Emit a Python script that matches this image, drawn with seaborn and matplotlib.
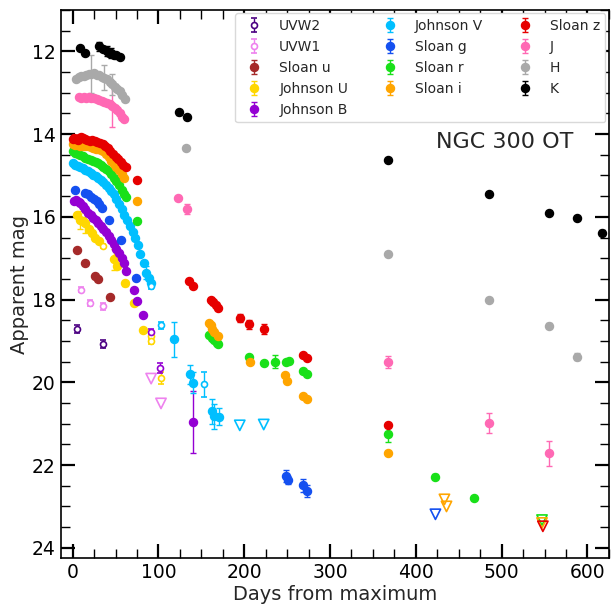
import matplotlib
matplotlib.use("Agg")
import matplotlib.pyplot as plt
from matplotlib.ticker import MultipleLocator
import seaborn as sns

# ---------------- photometry (days from maximum, apparent magnitude, error) ----------------
bands = ["UVW2", "UVW1", "Sloan u", "Johnson U", "Johnson B", "Johnson V",
         "Sloan g", "Sloan r", "Sloan i", "Sloan z", "J", "H", "K"]
colors = ["#4b0082", "#ee82ee", "#a52a2a", "#ffd700", "#9400d3", "#00bfff",
          "#1450f0", "#19e019", "#ffa500", "#e60000", "#ff69b4", "#a9a9a9", "#000000"]

# UVW2 (Swift, open symbols only)
uvw2_open_day = [5.2, 35.5]
uvw2_open_mag = [18.72, 19.07]
uvw2_open_err = [0.1, 0.1]

# UVW1
uvw1_open_day = [9.9, 20.7, 35.5]
uvw1_open_mag = [17.76, 18.08, 18.16]
uvw1_open_err = [0.06, 0.08, 0.08]
uvw1_lim_day = [91.5, 103.0]
uvw1_lim_mag = [19.91, 20.51]

# Sloan u
u_day = [5.2, 15.0, 26.6, 29.3, 43.2]
u_mag = [16.79, 17.11, 17.43, 17.50, 17.94]
u_err = [0.04, 0.04, 0.04, 0.04, 0.04]

# Johnson U
U_day = [5.2, 9.0, 12.0, 15.0, 19.0, 22.7, 26.0, 30.4, 48.0, 52.0, 61.5, 72.0, 82.2]
U_mag = [15.95, 16.07, 16.10, 16.15, 16.30, 16.39, 16.50, 16.59, 17.03, 17.18, 17.61, 18.09, 18.74]
U_err = [0.05, 0.22, 0.05, 0.25, 0.05, 0.05, 0.05, 0.05, 0.25, 0.05, 0.05, 0.05, 0.05]
U_open_day = [35.0, 91.5, 91.5, 103.0]
U_open_mag = [16.71, 18.88, 19.00, 19.89]
U_open_err = [0.05, 0.08, 0.08, 0.15]

# Johnson B
B_day = [1.3, 4.0, 7.0, 9.0, 12.0, 15.0, 18.0, 21.0, 24.0, 27.0, 30.0, 33.0, 36.0,
         39.0, 42.0, 45.0, 48.0, 51.0, 54.0, 57.0, 60.0, 62.3, 72.0, 75.2, 82.2, 140.4]
B_mag = [15.62, 15.60, 15.64, 15.66, 15.73, 15.82, 15.90, 15.96, 16.02, 16.08, 16.15, 16.22, 16.29,
         16.37, 16.46, 16.56, 16.66, 16.77, 16.88, 17.00, 17.12, 17.31, 17.76, 18.04, 18.38, 20.97]
B_err = [0.03] * 25 + [0.75]
B_open_day = [91.5, 102.3]
B_open_mag = [18.78, 19.65]
B_open_err = [0.08, 0.12]

# Johnson V
V_day = [0.0, 3.0, 6.0, 9.0, 12.0, 15.0, 18.0, 21.0, 24.0, 27.0, 30.0, 33.0, 36.0, 39.0,
         42.0, 45.0, 48.0, 51.0, 54.0, 57.0, 60.0, 63.0, 67.0, 70.0, 73.0, 76.0, 79.0, 83.0,
         86.0, 88.7, 91.5, 118.7, 137.3, 140.4, 162.6, 164.5, 170.3]
V_mag = [14.70, 14.74, 14.78, 14.80, 14.83, 14.86, 14.90, 14.94, 14.98, 15.02, 15.07, 15.12, 15.17, 15.23,
         15.30, 15.38, 15.46, 15.56, 15.68, 15.82, 15.95, 16.07, 16.23, 16.37, 16.50, 16.67, 16.91, 17.11,
         17.35, 17.47, 17.60, 18.96, 19.81, 20.01, 20.70, 20.82, 20.83]
V_err = [0.03] * 28 + [0.15, 0.03, 0.03, 0.42, 0.22, 0.25, 0.3, 0.3, 0.2]
V_open_day = [91.5, 103.0, 152.8]
V_open_mag = [17.68, 18.62, 20.05]
V_open_err = [0.06, 0.08, 0.3]
V_lim_day = [194.8, 222.7]
V_lim_mag = [21.04, 21.02]

# Sloan g
g_day = [3.3, 15.0, 18.0, 22.0, 25.0, 28.0, 31.0, 34.0, 42.0, 56.5, 74.4, 249.0, 250.7, 268.6, 273.7]
g_mag = [15.34, 15.42, 15.46, 15.52, 15.56, 15.62, 15.70, 15.78, 16.07, 16.55, 17.49, 22.27, 22.36, 22.49, 22.63]
g_err = [0.03] * 11 + [0.15, 0.1, 0.15, 0.15]
g_lim_day = [422.8]
g_lim_mag = [23.19]

# Sloan r
r_day = [0.0, 3.0, 6.0, 9.0, 12.0, 15.0, 18.0, 21.0, 24.0, 27.0, 30.0, 33.0, 36.0, 39.0, 42.0,
         45.0, 48.0, 51.0, 54.0, 57.0, 60.0, 62.0, 75.0, 159.0, 162.0, 165.0, 168.0, 170.0,
         206.0, 222.5, 236.0, 249.0, 252.0, 268.5, 273.5, 367.3, 422.8, 468.3]
r_mag = [14.42, 14.45, 14.48, 14.50, 14.54, 14.57, 14.60, 14.62, 14.64, 14.67, 14.70, 14.74, 14.79, 14.84, 14.90,
         14.97, 15.05, 15.14, 15.24, 15.35, 15.46, 15.52, 16.10, 18.85, 18.92, 18.98, 19.04, 19.08,
         19.38, 19.54, 19.50, 19.50, 19.49, 19.73, 19.79, 21.25, 22.28, 22.80]
r_err = [0.03] * 30 + [0.15, 0.03, 0.03, 0.03, 0.03, 0.2, 0.06, 0.04]
r_lim_day = [547.0]
r_lim_mag = [23.33]

# Sloan i
i_day = [0.0, 3.0, 6.0, 9.0, 12.0, 15.0, 18.0, 21.0, 24.0, 27.0, 30.0, 33.0, 36.0, 39.0, 42.0,
         45.0, 48.0, 51.0, 54.0, 57.0, 60.0, 74.5, 159.0, 161.0, 163.0, 165.0, 169.0,
         207.0, 248.0, 250.0, 268.5, 273.5, 367.3]
i_mag = [14.25, 14.27, 14.26, 14.28, 14.30, 14.29, 14.30, 14.32, 14.33, 14.35, 14.37, 14.39, 14.42, 14.48, 14.56,
         14.64, 14.72, 14.80, 14.88, 14.97, 15.05, 15.62, 18.56, 18.62, 18.70, 18.78, 18.88,
         19.50, 19.83, 19.97, 20.32, 20.41, 21.70]
i_err = [0.03] * 33
i_lim_day = [433.3, 435.7, 547.0]
i_lim_mag = [22.83, 23.00, 23.40]

# Sloan z
z_day = [0.0, 2.0, 4.0, 6.0, 8.0, 10.0, 12.0, 14.0, 17.0, 20.0, 23.0, 26.0, 29.0, 32.0, 35.0,
         38.0, 41.0, 44.0, 47.0, 50.0, 53.0, 56.0, 59.0, 62.0, 75.0, 135.5, 140.0,
         161.0, 164.0, 167.0, 170.0, 195.0, 205.0, 223.0, 268.5, 273.5, 367.3]
z_mag = [14.13, 14.10, 14.12, 14.14, 14.10, 14.08, 14.09, 14.12, 14.14, 14.16, 14.15, 14.17, 14.19, 14.22, 14.25,
         14.29, 14.34, 14.41, 14.48, 14.55, 14.61, 14.67, 14.74, 14.80, 15.12, 17.56, 17.68,
         18.00, 18.06, 18.13, 18.20, 18.45, 18.60, 18.72, 19.34, 19.41, 21.03]
z_err = [0.03] * 31 + [0.1, 0.1, 0.12, 0.03, 0.03, 0.03]
z_lim_day = [548.0]
z_lim_mag = [23.48]

# J
J_day = [7.0, 10.0, 13.0, 16.0, 19.0, 22.0, 25.0, 28.0, 31.0, 34.0, 37.0, 40.0, 43.0, 46.0,
         49.0, 52.0, 55.0, 58.0, 60.0, 123.0, 133.4, 367.3, 485.8, 555.7]
J_mag = [13.10, 13.12, 13.10, 13.12, 13.10, 13.13, 13.12, 13.15, 13.17, 13.20, 13.22, 13.25, 13.28, 13.33,
         13.36, 13.42, 13.50, 13.58, 13.63, 15.54, 15.80, 19.51, 20.98, 21.72]
J_err = [0.03] * 13 + [0.5] + [0.03] * 5 + [0.05, 0.12, 0.15, 0.25, 0.3]

# H
H_day = [4.0, 7.0, 10.0, 13.0, 16.0, 19.0, 22.0, 25.0, 28.0, 31.0, 34.0, 37.0, 40.0, 43.0,
         46.0, 49.0, 52.0, 55.0, 58.0, 61.5, 132.3, 367.3, 485.8, 555.7, 588.3]
H_mag = [12.67, 12.62, 12.60, 12.60, 12.58, 12.55, 12.55, 12.52, 12.56, 12.58, 12.62, 12.64, 12.68, 12.74,
         12.80, 12.85, 12.90, 12.97, 13.05, 13.15, 14.34, 16.90, 18.00, 18.63, 19.38]
H_err = [0.05, 0.05, 0.05, 0.05, 0.05, 0.05, 0.45, 0.05, 0.05, 0.05, 0.05, 0.3, 0.05, 0.05,
         0.25, 0.05, 0.05, 0.05, 0.05, 0.05, 0.04, 0.04, 0.04, 0.06, 0.08]

# K
K_day = [9.0, 14.0, 31.0, 35.0, 40.0, 42.0, 45.0, 48.0, 51.0, 55.0,
         123.7, 133.4, 367.3, 485.8, 555.7, 588.3, 617.0]
K_mag = [11.93, 12.03, 11.88, 11.95, 12.00, 12.04, 12.05, 12.08, 12.10, 12.14,
         13.47, 13.58, 14.63, 15.45, 15.90, 16.02, 16.39]
K_err = [0.03, 0.03, 0.1, 0.03, 0.12, 0.03, 0.12, 0.03, 0.03, 0.03,
         0.06, 0.04, 0.03, 0.03, 0.03, 0.03, 0.06]

filled = {
    "Sloan u": (u_day, u_mag, u_err), "Johnson U": (U_day, U_mag, U_err),
    "Johnson B": (B_day, B_mag, B_err), "Johnson V": (V_day, V_mag, V_err),
    "Sloan g": (g_day, g_mag, g_err), "Sloan r": (r_day, r_mag, r_err),
    "Sloan i": (i_day, i_mag, i_err), "Sloan z": (z_day, z_mag, z_err),
    "J": (J_day, J_mag, J_err), "H": (H_day, H_mag, H_err), "K": (K_day, K_mag, K_err),
}
hollow = {
    "UVW2": (uvw2_open_day, uvw2_open_mag, uvw2_open_err),
    "UVW1": (uvw1_open_day, uvw1_open_mag, uvw1_open_err),
    "Johnson U": (U_open_day, U_open_mag, U_open_err),
    "Johnson B": (B_open_day, B_open_mag, B_open_err),
    "Johnson V": (V_open_day, V_open_mag, V_open_err),
}
limits = {
    "UVW1": (uvw1_lim_day, uvw1_lim_mag), "Johnson V": (V_lim_day, V_lim_mag),
    "Sloan g": (g_lim_day, g_lim_mag), "Sloan r": (r_lim_day, r_lim_mag),
    "Sloan i": (i_lim_day, i_lim_mag), "Sloan z": (z_lim_day, z_lim_mag),
}

# ---------------- figure ----------------
sns.set_style("ticks")
plt.rcParams.update({
    "font.family": ["DejaVu Sans"],
    "xtick.direction": "in", "ytick.direction": "in",
    "xtick.top": True, "ytick.right": True,
    "xtick.major.size": 10, "ytick.major.size": 10,
    "xtick.minor.size": 6.5, "ytick.minor.size": 6.5,
    "xtick.major.width": 1.6, "ytick.major.width": 1.6,
    "xtick.minor.width": 1.0, "ytick.minor.width": 1.0,
    "axes.linewidth": 1.2,
    "axes.edgecolor": "black",
    "xtick.color": "black", "ytick.color": "black",
})

fig = plt.figure(figsize=(6.12, 6.08), dpi=100)
ax = fig.add_axes([0.099, 0.082, 0.896, 0.9016])

ebar_kw = dict(elinewidth=1.0, capsize=2, capthick=1.0, linestyle="none")
handles = {}
for band, col in zip(bands, colors):
    if band in filled:
        d, m, e = filled[band]
        h = ax.errorbar(d, m, yerr=e, fmt="o", ms=5.8, color=col, ecolor=col,
                        mec=col, mfc=col, **ebar_kw)
        handles[band] = h
    if band in hollow:
        d, m, e = hollow[band]
        h = ax.errorbar(d, m, yerr=e, fmt="o", ms=4.3, mew=1.2, color=col, ecolor=col,
                        mec=col, mfc="white", **ebar_kw)
        handles.setdefault(band, h)
    if band in limits:
        d, m = limits[band]
        sns.scatterplot(x=d, y=m, ax=ax, marker="v", s=55, color=col,
                        facecolors="none", edgecolor=col, linewidth=1.2, legend=False)

ax.set_xlim(-14, 625)
ax.set_ylim(24.25, 11.0)
ax.xaxis.set_major_locator(MultipleLocator(100))
ax.xaxis.set_minor_locator(MultipleLocator(25))
ax.yaxis.set_major_locator(MultipleLocator(2))
ax.yaxis.set_minor_locator(MultipleLocator(0.5))
ax.tick_params(which="both", top=True, right=True, labelsize=13.5)

ax.set_xlabel("Days from maximum", fontsize=14, labelpad=2)
ax.set_ylabel("Apparent mag", fontsize=14, labelpad=2)

ax.text(0.81, 0.76, "NGC 300 OT", transform=ax.transAxes, fontsize=16,
        ha="center", va="center")

ax.legend([handles[b] for b in bands], bands, loc="upper right", ncol=3,
          fontsize=10, borderaxespad=0.25, framealpha=1.0, edgecolor="0.85")

fig.savefig("out.png", dpi=100)
